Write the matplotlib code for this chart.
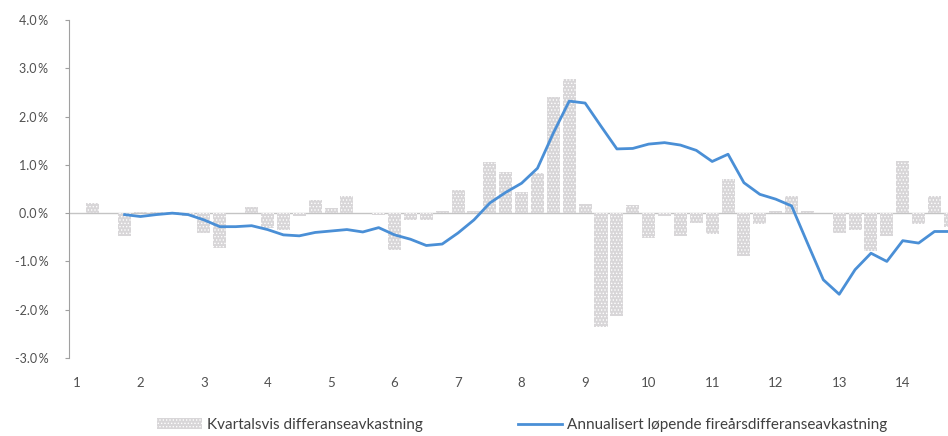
import numpy as np
import matplotlib
matplotlib.use("Agg")
import matplotlib.pyplot as plt

plt.rcParams['font.family'] = ['Lato', 'DejaVu Sans']
plt.rcParams['hatch.linewidth'] = 0.6

# kvartalsvis differanseavkastning (%), 56 kvartaler
kvartal = [0.00, 0.20, 0.00, -0.48, 0.02, 0.03, 0.02, -0.05,
           -0.42, -0.73, 0.00, 0.13, -0.30, -0.35, -0.05, 0.27,
           0.10, 0.36, 0.00, -0.03, -0.76, -0.15, -0.15, 0.05,
           0.48, 0.05, 1.05, 0.85, 0.43, 0.83, 2.41, 2.78,
           0.19, -2.36, -2.14, 0.16, -0.52, -0.05, -0.47, -0.20,
           -0.43, 0.71, -0.88, -0.22, 0.04, 0.36, 0.05, 0.00,
           -0.41, -0.34, -0.79, -0.47, 1.09, -0.22, 0.36, -0.28]

# annualisert løpende fireårsdifferanseavkastning (%)
lopende = [np.nan, np.nan, np.nan, -0.03, -0.07, -0.03, 0.00, -0.03,
           -0.14, -0.28, -0.28, -0.26, -0.34, -0.45, -0.47, -0.40,
           -0.37, -0.34, -0.39, -0.30, -0.45, -0.54, -0.67, -0.64,
           -0.41, -0.14, 0.21, 0.43, 0.62, 0.93, 1.66, 2.32,
           2.28, 1.80, 1.33, 1.34, 1.43, 1.46, 1.41, 1.30,
           1.07, 1.22, 0.63, 0.39, 0.29, 0.15, -0.62, -1.38,
           -1.68, -1.17, -0.83, -1.00, -0.57, -0.62, -0.38, -0.38]

aar = [str(a) for a in range(1, 15)]
yticks = [4.0, 3.0, 2.0, 1.0, 0.0, -1.0, -2.0, -3.0]

x = np.arange(len(kvartal))

fig = plt.figure(figsize=(9.48, 4.36), dpi=100)
ax = fig.add_axes([69/948, 78/436, 1 - 69/948, 338/436])

bars = ax.bar(x, kvartal, width=0.82, color='#d8d6d8', edgecolor='white',
              hatch='.....', linewidth=0, label='Kvartalsvis differanseavkastning', zorder=2)
ax.axhline(0, color='#c4c4c4', lw=1, zorder=1)
linje, = ax.plot(x, lopende, color='#4a8fd6', lw=2,
                 label='Annualisert løpende fireårsdifferanseavkastning', zorder=3)

ax.set_xlim(-0.5, 54.85)
ax.set_ylim(-3.0, 4.0)
ax.set_yticks(yticks)
ax.set_yticklabels([f'{v:.1f}\u2009%' for v in yticks])
ax.set_xticks(x[::4])
ax.set_xticklabels(aar)

for s in ['top', 'right', 'bottom']:
    ax.spines[s].set_visible(False)
ax.spines['left'].set_color('#a0a0a0')
ax.tick_params(axis='y', length=3, color='#a0a0a0', labelsize=9, labelcolor='#505050', pad=12)
ax.tick_params(axis='x', length=0, labelsize=9.5, labelcolor='#505050', pad=14)

fig.legend(handles=[bars, linje], loc='center', bbox_to_anchor=(0.551, 0.025), ncol=2,
           frameon=False, fontsize=11, handlelength=2.9, columnspacing=6.2,
           handletextpad=0.35, labelcolor='#404040')

fig.savefig('out.png', dpi=100)
